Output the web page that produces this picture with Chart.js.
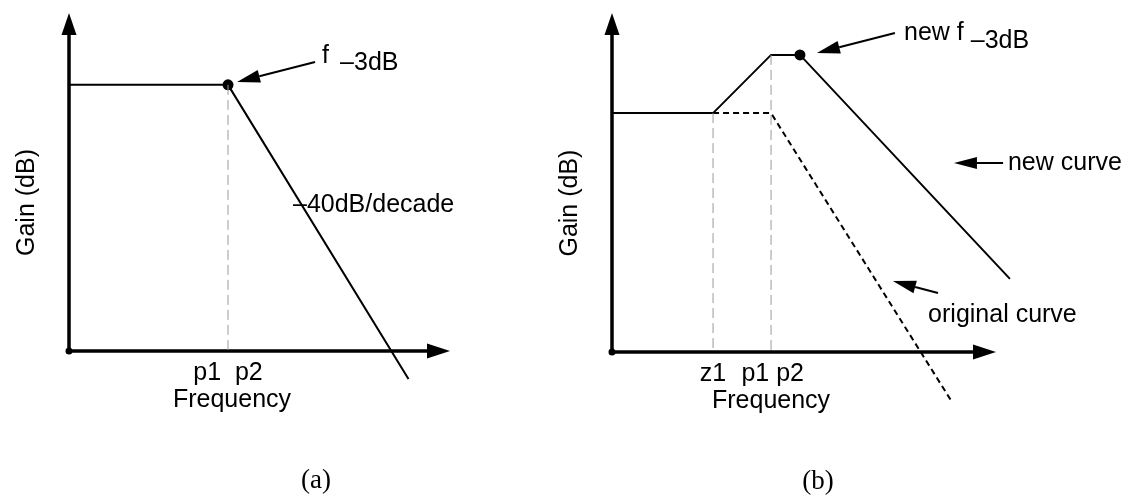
<!DOCTYPE html>
<html>
<head>
<meta charset="utf-8">
<script src="https://cdn.jsdelivr.net/npm/chart.js@4.4.1/dist/chart.umd.min.js"></script>
<style>
html,body{margin:0;padding:0;background:#fff;}
#wrap{position:relative;width:1136px;height:495px;overflow:hidden;}
canvas{position:absolute;left:0;top:0;}
</style>
</head>
<body>
<div id="wrap">
<canvas id="ca" width="1136" height="495"></canvas>
<canvas id="cb" width="1136" height="495"></canvas>
</div>
<script>
// ---------- Panel (a): original response ----------
const aFreq = [0, 7.93, 16.93];
const aGain = [10, 10, -1.05];
const aCorner = [7.93, 10];            // f-3dB point (p1 = p2)
const aGuides = [7.93];                 // dashed guide at p1/p2
const aTickPos = [7.93];
const aTickLabels = ['p1  p2'];

// ---------- Panel (b): with added zero ----------
const bNewFreq = [0, 5, 7.87, 9.3, 19.69];
const bNewGain = [8.95, 8.95, 11.13, 11.13, 2.74];
const bOrigFreq = [5, 7.87, 16.82];
const bOrigGain = [8.95, 8.95, -1.87];
const bCorner = [9.3, 11.13];           // new f-3dB point
const bGuides = [5, 7.87];              // z1, p1/p2
const bGuideTops = [8.95, 11.13];
const bTickPos = [5, 7.95];
const bTickLabels = ['z1', 'p1 p2'];

const xMax = 19, yMax = 12.7;
const SANS = '"Liberation Sans", Arial, sans-serif';
const SERIF = '"Liberation Serif", "Times New Roman", serif';

function pts(xs, ys){ return xs.map((x,i)=>({x:x, y:ys[i]})); }

function arrow(ctx, x1, y1, x2, y2, len, half, lw){
  const a = Math.atan2(y2-y1, x2-x1);
  const bx = x2 - len*Math.cos(a), by = y2 - len*Math.sin(a);
  ctx.lineWidth = lw;
  ctx.beginPath(); ctx.moveTo(x1,y1); ctx.lineTo(bx,by); ctx.stroke();
  ctx.beginPath();
  ctx.moveTo(x2,y2);
  ctx.lineTo(bx - half*Math.sin(a), by + half*Math.cos(a));
  ctx.lineTo(bx + half*Math.sin(a), by - half*Math.cos(a));
  ctx.closePath(); ctx.fill();
}

function makePanel(id, area, datasets, ticks, extra){
  const decor = {
    id: 'decor',
    beforeDatasetsDraw(chart){
      const ctx = chart.ctx, ca = chart.chartArea;
      ctx.save();
      ctx.strokeStyle = '#000'; ctx.fillStyle = '#000'; ctx.lineCap = 'butt';
      arrow(ctx, ca.left, ca.bottom, ca.left, ca.top, 22, 7.5, 3.5);
      arrow(ctx, ca.left, ca.bottom, ca.right, ca.bottom, 23, 7.5, 3.5);
      ctx.beginPath(); ctx.arc(ca.left, ca.bottom, 3.5, 0, Math.PI*2); ctx.fill();
      ctx.restore();
    },
    afterDatasetsDraw(chart){
      const ctx = chart.ctx, ca = chart.chartArea;
      const X = v => chart.scales.x.getPixelForValue(v);
      const Y = v => chart.scales.y.getPixelForValue(v);
      ctx.save();
      ctx.fillStyle = '#000'; ctx.strokeStyle = '#000';
      ctx.font = '25px ' + SANS;
      ctx.textAlign = 'center'; ctx.textBaseline = 'middle';
      ticks.pos.forEach((p,i)=> ctx.fillText(ticks.labels[i], X(p), ca.bottom + 22));
      ctx.fillText('Frequency', X(extra.freqX), ca.bottom + 49);
      ctx.save();
      ctx.translate(ca.left - 42, Y(5.58));
      ctx.rotate(-Math.PI/2);
      ctx.fillText('Gain (dB)', 0, 0);
      ctx.restore();
      extra.draw(ctx, X, Y, ca);
      ctx.font = '27px ' + SERIF;
      ctx.textAlign = 'center'; ctx.textBaseline = 'middle';
      ctx.fillText(extra.caption, X(extra.capX), ca.bottom + 130);
      ctx.restore();
    }
  };
  return new Chart(document.getElementById(id), {
    type: 'scatter',
    data: { datasets: datasets },
    options: {
      responsive: false, animation: false, events: [],
      layout: { padding: { left: area.left, right: 1136 - area.right, top: area.top, bottom: 495 - area.bottom } },
      scales: {
        x: { type: 'linear', min: 0, max: xMax, display: false },
        y: { type: 'linear', min: 0, max: yMax, display: false }
      },
      plugins: { legend: { display: false }, tooltip: { enabled: false }, title: { display: false } }
    },
    plugins: [decor]
  });
}

function guideSets(xs, tops){
  return xs.map((g,i)=>({
    data: [{x:g, y:tops[i]}, {x:g, y:0}], showLine: true, borderColor: '#9a9a9a', borderWidth: 1,
    borderDash: [10,5], pointRadius: 0, clip: false
  }));
}
function lineSet(data, dash){
  return { data: data, showLine: true, borderColor: '#000', borderWidth: 2, borderDash: dash || [],
    pointRadius: 0, tension: 0, clip: false };
}
function dotSet(p){
  return { data: [{x:p[0], y:p[1]}], showLine: false, pointRadius: 5.5, pointBackgroundColor: '#000',
    pointBorderColor: '#000', pointBorderWidth: 0, clip: false };
}

makePanel('ca', {left:69, right:450, top:13, bottom:351},
  [].concat(guideSets(aGuides, [aCorner[1]]), [lineSet(pts(aFreq, aGain)), dotSet(aCorner)]),
  {pos: aTickPos, labels: aTickLabels},
  { freqX: 8.13, capX: 12.32, caption: '(a)',
    draw(ctx, X, Y){
      ctx.textAlign = 'left'; ctx.textBaseline = 'alphabetic';
      ctx.fillText('f', X(12.62), Y(10.82));
      ctx.fillText('\u20133dB', X(13.52), Y(10.56));
      ctx.textBaseline = 'middle';
      ctx.fillText('\u201340dB/decade', X(11.17), Y(5.49));
      arrow(ctx, X(12.27), Y(10.86), X(8.38), Y(10.11), 23, 6.5, 2);
    }
  });

makePanel('cb', {left:612, right:996, top:13, bottom:352},
  [].concat(guideSets(bGuides, bGuideTops), [
    lineSet(pts(bOrigFreq, bOrigGain), [6,4]),
    lineSet(pts(bNewFreq, bNewGain)),
    dotSet(bCorner)
  ]),
  {pos: bTickPos, labels: bTickLabels},
  { freqX: 7.87, capX: 10.19, caption: '(b)',
    draw(ctx, X, Y){
      ctx.textAlign = 'left'; ctx.textBaseline = 'alphabetic';
      ctx.fillText('new f', X(14.45), Y(11.69));
      ctx.fillText('\u20133dB', X(17.75), Y(11.39));
      arrow(ctx, X(14.0), Y(11.95), X(10.14), Y(11.2), 23, 6.5, 2);
      arrow(ctx, X(19.35), Y(7.08), X(16.92), Y(7.08), 23, 6, 2);
      ctx.textBaseline = 'middle';
      ctx.fillText('new curve', X(19.59), Y(7.08));
      arrow(ctx, X(16.13), Y(2.21), X(13.9), Y(2.66), 23, 6.5, 2);
      ctx.fillText('original curve', X(15.64), Y(1.39));
    }
  });
</script>
</body>
</html>
